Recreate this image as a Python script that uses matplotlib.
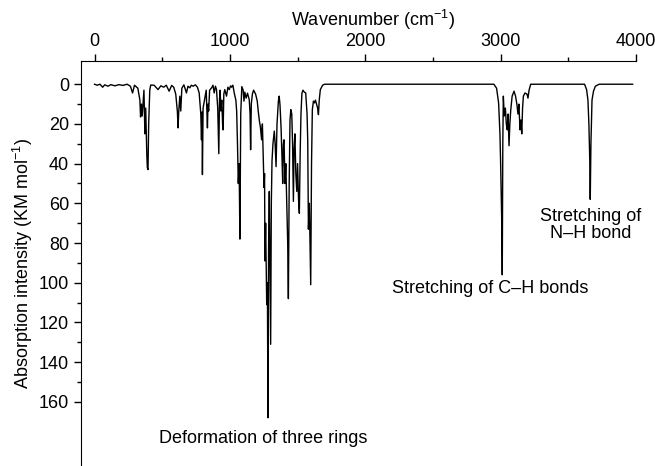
import numpy as np
import matplotlib
matplotlib.use("Agg")
import matplotlib.pyplot as plt
from matplotlib.ticker import MultipleLocator, FixedLocator

plt.rcParams['font.family'] = ['Liberation Sans', 'DejaVu Sans']
plt.rcParams['mathtext.fontset'] = 'custom'
plt.rcParams['mathtext.rm'] = 'Liberation Sans'
plt.rcParams['mathtext.default'] = 'regular'

# =============================================================================
# spectrum trace (wavenumber, intensity)
# =============================================================================
wn_low = [0, 20, 40, 60, 75, 100, 120, 150, 180, 210, 240, 265, 281, 295, 320,
          335, 340, 346, 352, 358, 365, 372, 378, 386, 390, 395, 400, 408, 415,
          440, 469, 490, 511, 530, 551, 570, 585, 600, 612, 617, 622, 630, 637,
          645, 660, 679, 690, 704, 715, 728, 745, 760, 773, 785, 790, 794, 797,
          802, 815, 825, 834, 838, 843, 850, 864, 875, 884, 893, 901, 910, 918,
          923, 928, 933, 940, 946, 950, 955, 962, 975, 985, 995, 1005, 1012,
          1022, 1032, 1044, 1050, 1056, 1062, 1068, 1074, 1080, 1088]
int_low = [0, 0.5, 0, 1.5, 0.3, 1, 0.2, 0.8, 0.2, 0.6, 0, 1, 4.4, 0.5, 2,
           8, 16.5, 10, 16, 9.6, 3, 25, 12, 35, 42, 43, 20, 3, 0.4,
           0.5, 2.7, 0.8, 1.5, 0.5, 3.5, 0.6, 1.5, 5, 13.8, 22, 14, 6, 13.5,
           2, 0.3, 4.4, 1, 1.8, 0.5, 1, 0.3, 1.5, 4.4, 15, 28, 14, 45.5,
           12, 7, 3, 22, 10, 13.5, 3, 1.9, 0.5, 4.4, 1, 2.7, 12, 35,
           8, 3, 13.5, 8, 20, 23, 5, 2.7, 6, 1.5, 2.7, 0.8, 1.5,
           0.5, 4.4, 8, 13.6, 30, 50, 40, 78, 15, 1.2]

wn_mid = [1098, 1104, 1110, 1120, 1130, 1143, 1149, 1153, 1158, 1166, 1175,
          1190, 1202, 1210, 1218, 1226, 1234, 1240, 1246, 1252, 1256, 1259,
          1264, 1272, 1277, 1281, 1286, 1291, 1296, 1301, 1306, 1311, 1318,
          1328, 1334, 1341, 1348, 1358, 1364, 1370, 1378, 1384, 1390, 1395,
          1400, 1407, 1413, 1420, 1427, 1432, 1438, 1444, 1450, 1457, 1463,
          1469, 1474, 1480, 1487, 1494, 1500, 1507, 1513, 1519, 1525, 1532,
          1540, 1550, 1560, 1570, 1575, 1580, 1587, 1592, 1597, 1603, 1609,
          1617, 1625, 1632, 1640, 1648, 1654, 1660, 1668, 1685, 1700]
int_mid = [3, 8.5, 4, 7, 4.5, 7.8, 15, 33, 10, 5, 3,
           5, 8.5, 14, 18.5, 22, 28, 20, 35, 52, 45, 89,
           70, 111, 100, 168, 80, 54, 90, 131, 60, 38.7, 30,
           23.6, 30, 41.5, 20, 8.6, 6, 10.3, 22, 35, 50, 30,
           28, 50, 40, 60, 80, 108, 50, 18, 12.8, 15, 30,
           59, 33, 25, 45, 54, 40, 58, 65, 35, 15, 4.5,
           3, 4, 4.4, 15, 28.5, 73, 60, 80, 101, 40, 12.8,
           8.5, 9.4, 8, 10, 12, 15.3, 8, 2.7, 0.5, 0]

wn_ch = [2950, 2970, 2985, 2995, 3000, 3005, 3009, 3012, 3016, 3020, 3027,
         3035, 3042, 3049, 3055, 3062, 3068, 3075, 3085, 3099, 3110, 3120,
         3128, 3135, 3143, 3150, 3156, 3162, 3168, 3180, 3195, 3202, 3210, 3222]
int_ch = [0, 2, 9.4, 25, 40, 59, 72, 96, 30, 6, 16,
          12, 20, 23, 15, 31, 20, 12.8, 6, 3.5, 6, 10,
          15, 10, 23, 18, 25, 12, 6, 4.4, 5, 7, 3, 0]

wn_nh = [3620, 3635, 3645, 3652, 3659, 3662, 3667, 3675, 3686, 3700, 3728, 3975]
int_nh = [0, 2.7, 8, 20, 40, 58, 30, 8, 3.5, 1, 0, 0]

wn = np.array(wn_low + wn_mid + wn_ch + wn_nh)
absorb = np.array(int_low + int_mid + int_ch + int_nh)

# =============================================================================
# Graph
# =============================================================================
fig = plt.figure(figsize=(6.55, 4.66), dpi=100)
ax = fig.add_axes([81/655, 0.0, 555/655, 1 - 61/466])

ax.plot(wn, absorb, color="black", lw=1.0)

ax.set_xlim(-100, 4000)
ax.set_ylim(192.3, -11.7)

ax.spines["right"].set_visible(False)
ax.spines["bottom"].set_visible(False)
ax.xaxis.tick_top()
ax.xaxis.set_label_position("top")
ax.xaxis.set_major_locator(MultipleLocator(1000))
ax.xaxis.set_minor_locator(MultipleLocator(500))
ax.yaxis.set_major_locator(FixedLocator(np.arange(0, 161, 20)))
ax.yaxis.set_minor_locator(FixedLocator(np.arange(10, 160, 20)))
ax.tick_params(which="major", direction="out", length=5, width=1, labelsize=13)
ax.tick_params(which="minor", direction="out", length=3, width=1)
ax.tick_params(axis="x", pad=3)

ax.set_xlabel("Wavenumber (cm$^{-1}$)", fontsize=13)
ax.xaxis.set_label_coords(0.526, 1.0 + 35/405)
ax.set_ylabel("Absorption intensity (KM mol$^{-1}$)", fontsize=13)
ax.yaxis.set_label_coords(-0.083, 0.5)

ax.text(1243, 178.5, "Deformation of three rings", fontsize=13, ha="center", va="center")
ax.text(2926, 103, "Stretching of C–H bonds", fontsize=13, ha="center", va="center")
ax.text(3664, 71, "Stretching of\nN–H bond", fontsize=13, ha="center", va="center",
        linespacing=1.0)

fig.savefig("out.png", dpi=100)
